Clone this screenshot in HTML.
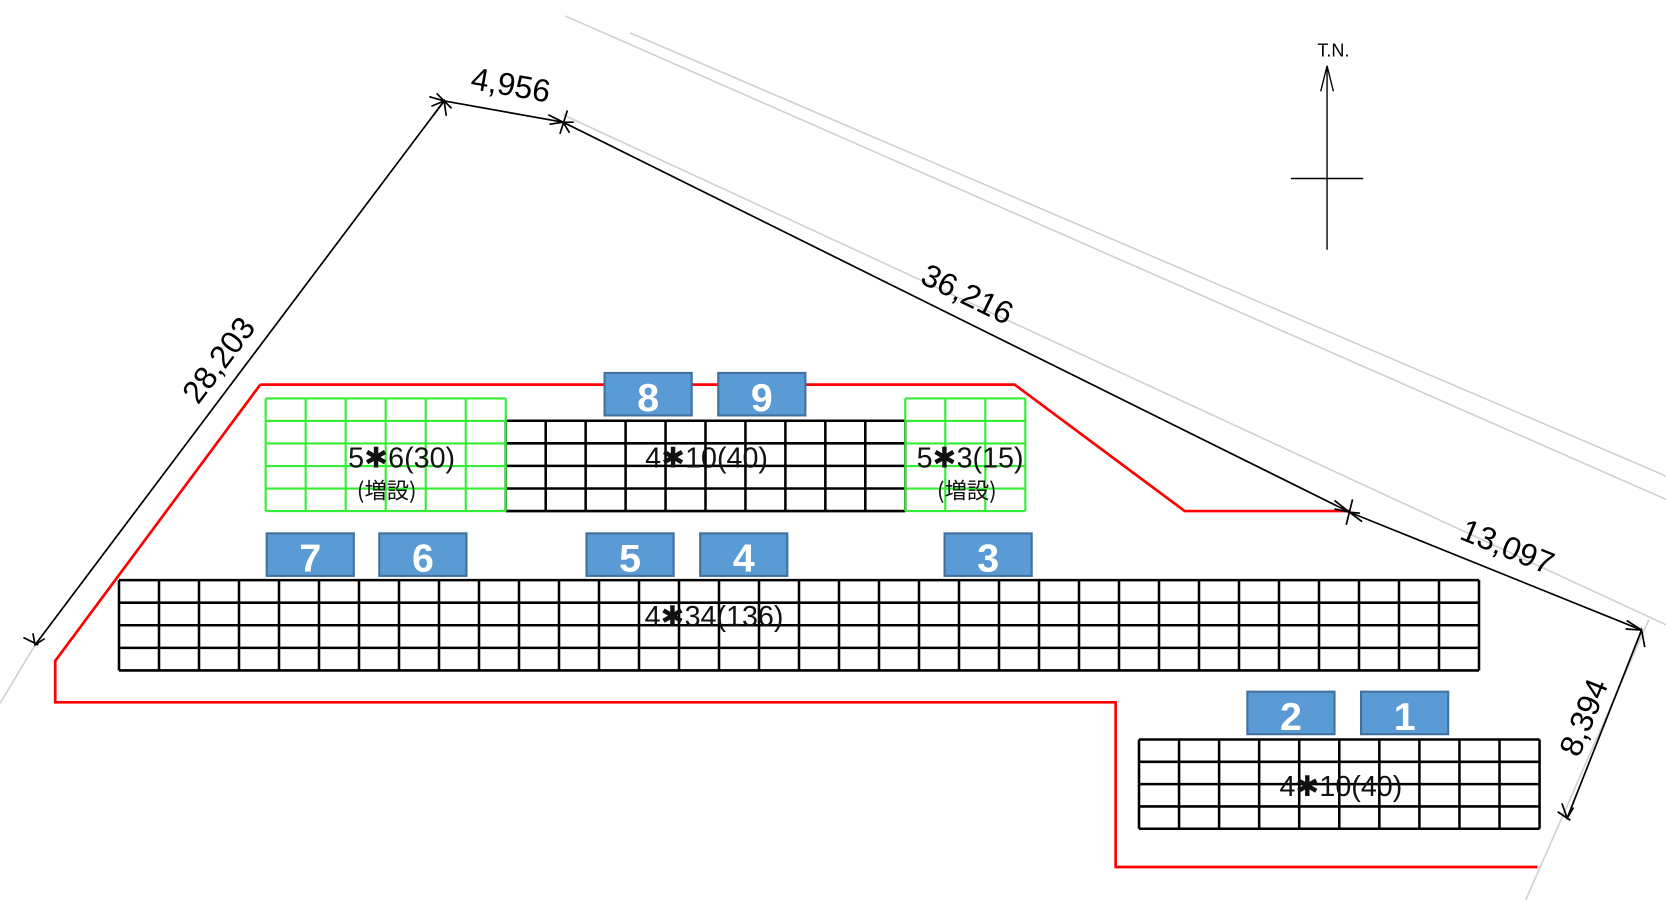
<!DOCTYPE html>
<html><head><meta charset="utf-8"><style>
html,body{margin:0;padding:0;background:#fff;width:1666px;height:901px;overflow:hidden}
svg{display:block}
.lbl{font-family:"Liberation Sans Narrow","Liberation Sans","Noto Sans CJK JP",sans-serif;font-size:30px;fill:#000;text-anchor:middle}
.num{font-family:"Liberation Sans",sans-serif;font-size:37px;font-weight:bold;fill:#fff;text-anchor:middle}
.grd{font-family:"Liberation Sans Narrow","Liberation Sans","Noto Sans CJK JP",sans-serif;font-size:27px;fill:#111;text-anchor:middle}
.grd2{font-family:"Noto Sans CJK JP",sans-serif;font-size:21px;fill:#111;text-anchor:middle}
</style></head><body>
<svg id="s" width="1666" height="901" viewBox="0 0 1568 848" preserveAspectRatio="none" xmlns="http://www.w3.org/2000/svg">
<g stroke="#d0d0d0" stroke-width="1.5" fill="none">
<line x1="532" y1="15" x2="1568" y2="470"/>
<line x1="593" y1="31" x2="1568" y2="448"/>
<line x1="530" y1="108" x2="1568" y2="588"/>
<line x1="0" y1="662" x2="33" y2="607"/>
<line x1="1552" y1="583" x2="1436" y2="847"/>
</g>
<polyline points="245,362 955,362 1115,481 1270,481" stroke="#f00" stroke-width="2.5" fill="none"/>
<polyline points="245,362 52,622 52,661 1050,661 1050,816 1447,816" stroke="#f00" stroke-width="2.5" fill="none"/>
<g id="grids"></g>
<g stroke="#000" stroke-width="1.6" fill="none">
<line x1="418" y1="95" x2="33" y2="607"/>
<line x1="418" y1="95" x2="530" y2="115"/>
<line x1="530" y1="115" x2="1270" y2="482"/>
<line x1="1270" y1="482" x2="1545" y2="593"/>
<line x1="1545" y1="593" x2="1475" y2="770"/>
<line x1="411" y1="88" x2="425" y2="102"/>
<line x1="534" y1="104" x2="527" y2="126"/>
<line x1="1273" y1="470" x2="1267" y2="494"/>
<line x1="1466" y1="764" x2="1478" y2="772"/>
<line x1="22" y1="600" x2="36" y2="607"/>
<polyline points="31,596 33,607 42,601"/>
<polyline points="409,107 418,95 420,109"/>
<polyline points="404,91 418,95 406,100"/>
<polyline points="516,108 530,115 517,117"/>
<polyline points="540,115 530,115 536,125"/>
<polyline points="1256,471 1270,482 1256,479"/>
<polyline points="1280,483 1270,482 1282,491"/>
<polyline points="1531,584 1545,593 1530,592"/>
<polyline points="1540,606 1545,593 1548,609"/>
<polyline points="1470,756 1475,770 1481,760"/>
<line x1="1249" y1="62" x2="1249" y2="235" stroke-width="1.3"/>
<line x1="1215" y1="168" x2="1283" y2="168" stroke-width="1.3"/>
<polyline points="1243,86 1249,62 1255,86" stroke-width="1.3"/>
</g>
<text x="1255" y="53" font-family="Liberation Sans,sans-serif" font-size="17" text-anchor="middle">T.N.</text>
<text class="lbl" transform="translate(214,345) rotate(-53)">28,203</text>
<text class="lbl" transform="translate(479,90) rotate(10)">4,956</text>
<text class="lbl" transform="translate(906,286) rotate(26)">36,216</text>
<text class="lbl" transform="translate(1415,524) rotate(22)">13,097</text>
<text class="lbl" transform="translate(1500,679) rotate(-68)">8,394</text>
<g id="boxes"></g>
<g>
<text class="num" x="610" y="387">8</text>
<text class="num" x="717" y="387">9</text>
<text class="num" x="292" y="538">7</text>
<text class="num" x="398" y="538">6</text>
<text class="num" x="593" y="538">5</text>
<text class="num" x="700" y="538">4</text>
<text class="num" x="930" y="538">3</text>
<text class="num" x="1215" y="687">2</text>
<text class="num" x="1322" y="687">1</text>
</g>
<text class="grd" x="378" y="440">5✱6(30)</text>
<text class="grd2" x="364" y="469">(増設)</text>
<text class="grd" x="665" y="440">4✱10(40)</text>
<text class="grd" x="913" y="440">5✱3(15)</text>
<text class="grd2" x="910" y="469">(増設)</text>
<text class="grd" x="672" y="589">4✱34(136)</text>
<text class="grd" x="1262" y="749">4✱10(40)</text>
</svg>
<script>
var NS="http://www.w3.org/2000/svg";
function grid(x0,y0,x1,y1,r,c,col,w){
 var g=document.getElementById("grids"),d="";
 for(var i=0;i<=r;i++){var y=y0+(y1-y0)*i/r;d+="M"+x0+" "+y+"H"+x1;}
 for(var j=0;j<=c;j++){var x=x0+(x1-x0)*j/c;d+="M"+x+" "+y0+"V"+y1;}
 var p=document.createElementNS(NS,"path");p.setAttribute("d",d);p.setAttribute("stroke",col);p.setAttribute("stroke-width",w);p.setAttribute("fill","none");g.appendChild(p);
}
grid(476,396,852,481,4,10,"#000",2.4);
grid(112,546,1392,631,4,34,"#000",2.4);
grid(1072,696,1449,780,4,10,"#000",2.4);
grid(250,375,476,481,5,6,"#33ee33",2);
grid(852,375,965,481,5,3,"#33ee33",2);
var b=[[569,351],[676,351],[251,502],[357,502],[552,502],[659,502],[889,502],[1174,651],[1281,651]];
var bg=document.getElementById("boxes");
b.forEach(function(q){var r=document.createElementNS(NS,"rect");r.setAttribute("x",q[0]);r.setAttribute("y",q[1]);r.setAttribute("width",82);r.setAttribute("height",40);r.setAttribute("fill","#5b9bd5");r.setAttribute("stroke","#41719c");r.setAttribute("stroke-width",2);bg.appendChild(r);});
</script>
</body></html>
